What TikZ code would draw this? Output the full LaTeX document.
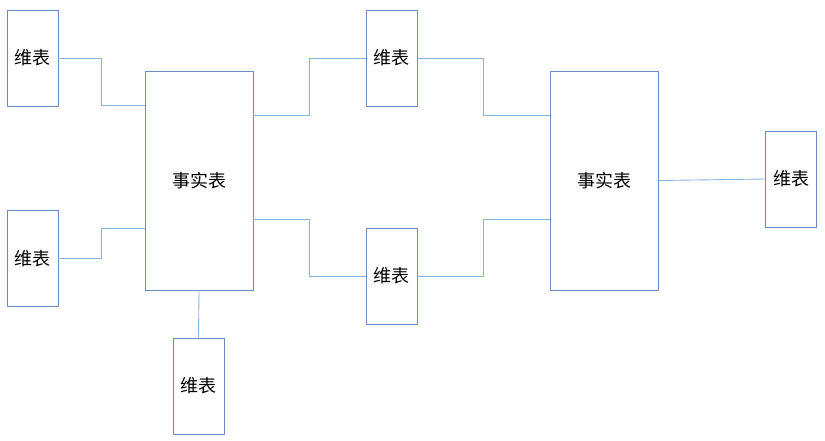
\documentclass[tikz,border=0pt]{standalone}
\usepackage{fontspec}
\newfontfamily\cjk{Noto Sans CJK SC}
\usetikzlibrary{calc}
\definecolor{boxc}{HTML}{6C8EBF}
\definecolor{linec}{HTML}{8AB4E0}
\tikzset{
  dimbox/.style={draw=boxc, line width=0.9pt, minimum width=51pt, minimum height=96pt, inner sep=0pt, font=\cjk\fontsize{18}{18}\selectfont},
  factbox/.style={draw=boxc, line width=0.9pt, minimum width=108pt, minimum height=219pt, inner sep=0pt, font=\cjk\fontsize{18}{18}\selectfont},
  conn/.style={draw=linec, line width=0.9pt}
}
\begin{document}
\begin{tikzpicture}[x=1pt,y=-1pt]
\useasboundingbox (0,0) rectangle (825,441);
\node[dimbox] (d1) at (32.5,58) {维表};
\node[dimbox] (d2) at (32.5,258.5) {维表};
\node[factbox] (f1) at (199,180.5) {事实表};
\node[dimbox] (d3) at (198.5,386) {维表};
\node[dimbox] (d4) at (391.5,58) {维表};
\node[dimbox] (d5) at (391.5,276) {维表};
\node[factbox] (f2) at (604.5,180.5) {事实表};
\node[dimbox] (d6) at (791,179) {维表};
\draw[conn] (d1.east) -- ++(43,0) |- ($(f1.north west)!0.16!(f1.south west)$);
\draw[conn] (d2.east) -- ++(43,0) |- ($(f1.north west)!0.72!(f1.south west)$);
\draw[conn] (f1.south) -- (d3.north);
\draw[conn] ($(f1.north east)!0.205!(f1.south east)$) -- ++(56,0) |- (d4.west);
\draw[conn] ($(f1.north east)!0.676!(f1.south east)$) -- ++(56,0) |- (d5.west);
\draw[conn] (d4.east) -- ++(66,0) |- ($(f2.north west)!0.205!(f2.south west)$);
\draw[conn] (d5.east) -- ++(66,0) |- ($(f2.north west)!0.676!(f2.south west)$);
\draw[conn] (f2.east) -- (d6.west);
\end{tikzpicture}
\end{document}
